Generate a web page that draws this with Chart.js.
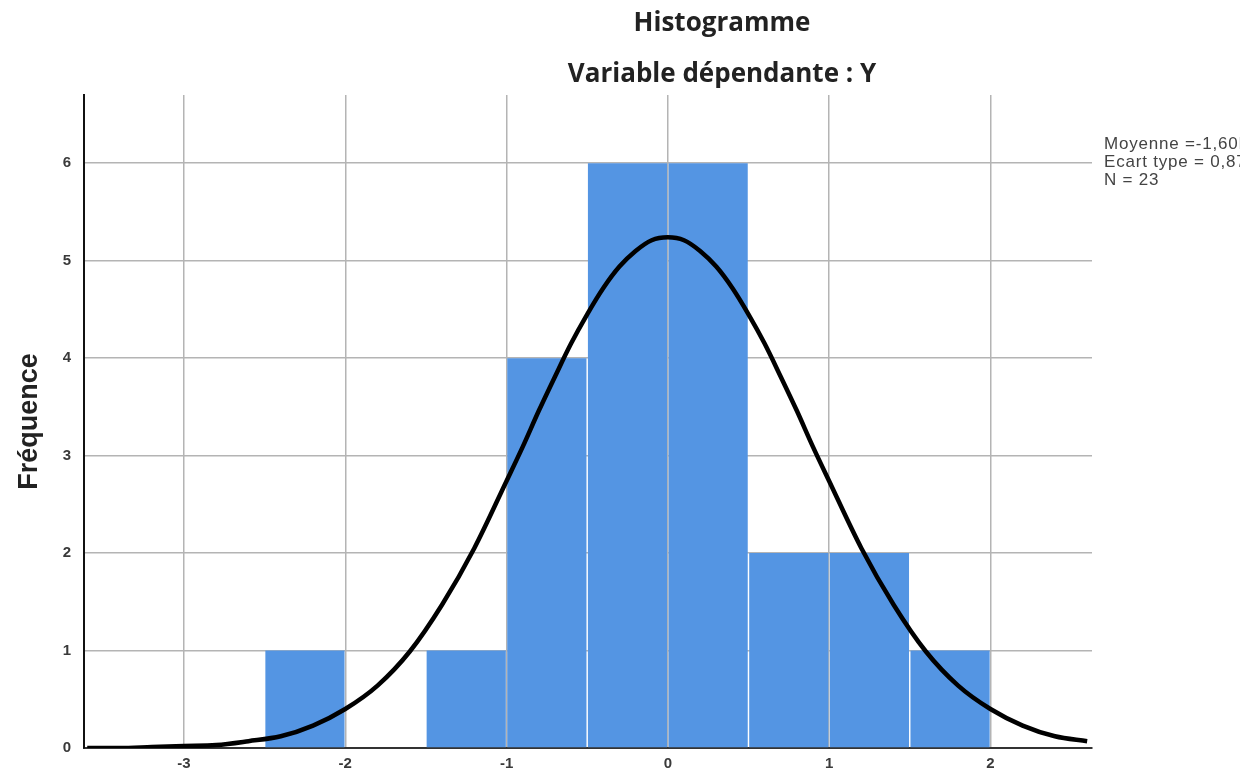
<!DOCTYPE html>
<html>
<head>
<meta charset="utf-8">
<script src="https://cdn.jsdelivr.net/npm/chart.js@4/dist/chart.umd.min.js"></script>
<style>
  html, body { margin: 0; padding: 0; background: #fff; }
  #wrap { width: 1240px; height: 782px; }
</style>
</head>
<body>
<div id="wrap"><canvas id="chart" width="1240" height="782"></canvas></div>
<script>
// bin centres (width 0.5) and counts
const binCentres = [-2.25, -1.25, -0.75, -0.25, 0.25, 0.75, 1.25, 1.75];
const binCounts = [1, 1, 4, 6, 6, 2, 2, 1];

// normal curve
const curveX = [-3.6, -3.4, -3.2, -3.0, -2.8, -2.6, -2.4, -2.2, -2.0, -1.8, -1.6, -1.4, -1.2,
                -1.0, -0.9, -0.8, -0.7, -0.6, -0.5, -0.4, -0.3, -0.2, -0.1,
                0, 0.1, 0.2, 0.3, 0.4, 0.5, 0.6, 0.7, 0.8, 0.9, 1.0,
                1.2, 1.4, 1.6, 1.8, 2.0, 2.2, 2.4, 2.6];
const curveY = [0.00, 0.00, 0.01, 0.02, 0.03, 0.07, 0.12, 0.23, 0.40, 0.64, 0.99, 1.47, 2.05,
                2.74, 3.09, 3.46, 3.81, 4.15, 4.45, 4.72, 4.94, 5.10, 5.21,
                5.24, 5.21, 5.10, 4.94, 4.72, 4.45, 4.15, 3.81, 3.46, 3.09, 2.74,
                2.05, 1.47, 0.99, 0.64, 0.40, 0.23, 0.12, 0.07];

const xTicks = [-3, -2, -1, 0, 1, 2];
const yTicks = [0, 1, 2, 3, 4, 5, 6];

const statLines = ["Moyenne =-1,60E-16", "Ecart type = 0,874", "N = 23"];

const tickFont = { family: "Liberation Sans", size: 15, weight: "bold" };

const textPlugin = {
    id: "texts",
    afterDraw(chart) {
        const ctx = chart.ctx;
        ctx.save();
        ctx.fillStyle = "#222";
        ctx.textAlign = "center";
        ctx.textBaseline = "middle";
        ctx.font = "bold 26px 'Open Sans'";
        ctx.fillText("Histogramme", 722, 24);
        ctx.fillText("Variable dépendante : Y", 722, 75);

        ctx.textAlign = "left";
        ctx.fillStyle = "#444";
        ctx.font = "17px 'Liberation Sans'";
        ctx.letterSpacing = "0.8px";
        statLines.forEach((s, i) => ctx.fillText(s, 1104, 144 + i * 18));
        ctx.restore();
    }
};

new Chart(document.getElementById("chart"), {
    data: {
        datasets: [
            {
                type: "line",
                data: curveX.map((x, i) => ({ x: x, y: curveY[i] })),
                borderColor: "#000",
                borderWidth: 4.5,
                pointRadius: 0,
                cubicInterpolationMode: "monotone",
                fill: false,
                order: 0
            },
            {
                type: "bar",
                data: binCentres.map((x, i) => ({ x: x, y: binCounts[i] })),
                backgroundColor: "#5495e3",
                borderWidth: 0,
                categoryPercentage: 1,
                barPercentage: 0.982,
                order: 1
            }
        ]
    },
    options: {
        responsive: false,
        animation: false,
        layout: { padding: { left: 0, right: 148, top: 95, bottom: 0 } },
        plugins: {
            legend: { display: false },
            tooltip: { enabled: false }
        },
        scales: {
            x: {
                type: "linear",
                min: -3.62,
                max: 2.63,
                offset: false,
                afterBuildTicks: (s) => { s.ticks = xTicks.map(v => ({ value: v })); },
                afterFit: (s) => { s.height = 34; },
                grid: { color: "#b4b4b4", lineWidth: 1.5, drawTicks: false, offset: false },
                border: { color: "#333", width: 2 },
                ticks: { color: "#3a3a3a", font: tickFont, padding: 7, maxRotation: 0 }
            },
            y: {
                type: "linear",
                min: 0,
                max: 6.7,
                afterBuildTicks: (s) => { s.ticks = yTicks.map(v => ({ value: v })); },
                afterFit: (s) => { s.width = 84; },
                grid: { color: "#b4b4b4", lineWidth: 1.5, drawTicks: false },
                border: { color: "#111", width: 2 },
                ticks: { color: "#3a3a3a", font: tickFont, padding: 13 },
                title: {
                    display: true,
                    text: "Fréquence",
                    color: "#222",
                    font: { family: "Liberation Sans", size: 27, weight: "bold" },
                    padding: { top: 13, bottom: 0 }
                }
            }
        }
    },
    plugins: [textPlugin]
});
</script>
</body>
</html>
